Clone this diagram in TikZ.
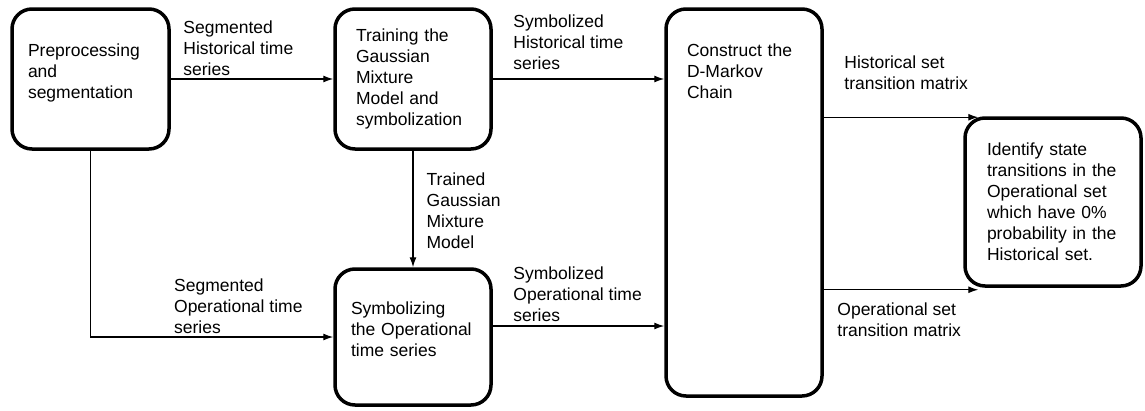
\documentclass[tikz,border=0pt]{standalone}
\usepackage{fontspec}
\setmainfont{Liberation Sans}
\usetikzlibrary{arrows.meta,positioning}

\begin{document}
\begin{tikzpicture}[
    x=1pt, y=-1pt,
    font=\fontsize{17.5}{21}\selectfont,
    stage/.style={
        rectangle,
        draw,
        line width=3.5pt,
        rounded corners=20pt,
        align=left,
        inner xsep=4pt
    },
    flow/.style={draw, -{Latex[length=10pt,width=7pt]}, line width=1.3pt},
    note/.style={align=left, inner sep=0pt, anchor=north west}
]
\useasboundingbox (0,0) rectangle (1145,410);

% Processing blocks
\node [stage, minimum width=157pt, minimum height=140pt, text width=125pt,
       text height=13pt, text depth=59pt] (prep) at (90.5,79) {Preprocessing\\and\\segmentation};

\node [stage, minimum width=156pt, minimum height=140pt, text width=114pt] (train) at (413,79)
      {Training the\\Gaussian\\Mixture\\Model and\\symbolization};

\node [stage, minimum width=156pt, minimum height=136pt, text width=124pt,
       text height=13pt, text depth=59pt] (symb) at (413,337) {Symbolizing\\the Operational\\time series};

\node [stage, minimum width=156pt, minimum height=387pt, text width=114pt,
       text height=13pt, text depth=306pt] (chain) at (744,202.5) {Construct the\\D-Markov\\Chain};

\node [stage, minimum width=176pt, minimum height=168pt, text width=132pt] (ident) at (1053,202)
      {Identify state\\transitions in the\\Operational set\\which have 0\%\\probability in the\\Historical set.};

% Connections with labels
\draw [flow] (prep) -- node[note, pos=0, xshift=12pt, yshift=59pt] (segH)
      {Segmented\\Historical time\\series} (train);
\draw [flow] (prep) |- node[note, pos=0.5, xshift=83pt, yshift=59pt] (segO)
      {Segmented\\Operational time\\series} (symb);
\draw [flow] (train) -- node[note, pos=0, xshift=13pt, yshift=-21pt] (gmm)
      {Trained\\Gaussian\\Mixture\\Model} (symb);
\draw [flow] (train.east) -- node[note, pos=0, xshift=20pt, yshift=65pt] (symH)
      {Symbolized\\Historical time\\series} (train.east -| chain.west);
\draw [flow] ([yshift=11pt]symb.east) -- node[note, pos=0, xshift=20pt, yshift=60pt] (symO)
      {Symbolized\\Operational time\\series} ([yshift=11pt]symb.east -| chain.west);
\draw [flow] ([yshift=-1pt]ident.north -| chain.east) -- node[note, pos=0, xshift=20pt, yshift=62pt] (matH)
      {Historical set\\transition matrix} ([xshift=15pt,yshift=-1pt]ident.north west);
\draw [flow] ([yshift=-2pt]ident.south -| chain.east) -- node[note, pos=0, xshift=13pt, yshift=-12pt] (matO)
      {Operational set\\transition matrix} ([xshift=15pt,yshift=-2pt]ident.south west);

\end{tikzpicture}
\end{document}
